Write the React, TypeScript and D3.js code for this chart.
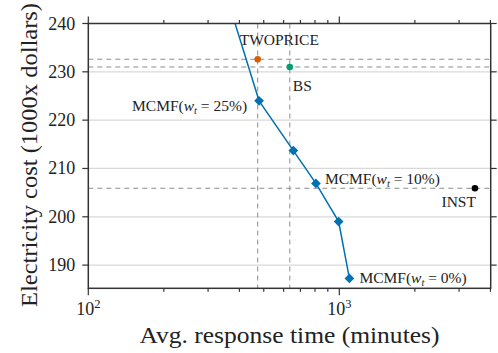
import { useEffect, useRef } from 'react';
import * as d3 from 'd3';

// MCMF trade-off curve (first point lies above the visible range)
const mcmfTime = [335, 479, 656, 807, 994, 1097];
const mcmfCost = [250, 224.0, 213.7, 206.9, 199.0, 187.25];
const mcmfLabels = ['', '25%', '', '10%', '', '0%'];

// baseline policies
const baseNames = ['TWOPRICE', 'BS', 'INST'];
const baseTime = [473, 635, 3470];
const baseCost = [232.6, 231.0, 205.9];
const baseColors = ['#D55E00', '#009E73', '#000000'];

const yTicks = [190, 200, 210, 220, 230, 240];
const xMajor = [100, 1000];
const xMinor = [200, 300, 400, 500, 600, 700, 800, 900, 2000, 3000, 4000];

const FONT = '"Liberation Serif", serif';

export default function App() {
  const svgRef = useRef<SVGSVGElement>(null);
  const width = 498;
  const height = 353;

  useEffect(() => {
    if (!svgRef.current) return;
    const svg = d3.select(svgRef.current);
    svg.selectAll('*').remove();

    const margin = { top: 23.5, right: 7.3, bottom: 64.7, left: 88.3 };
    const iw = width - margin.left - margin.right;
    const ih = height - margin.top - margin.bottom;

    const x = d3.scaleLog().domain([100, 4010]).range([0, iw]);
    const y = d3.scaleLinear().domain([185.2, 240]).range([ih, 0]);

    svg.append('defs').append('clipPath').attr('id', 'plot-clip')
      .append('rect').attr('width', iw).attr('height', ih);

    const g = svg.append('g').attr('transform', `translate(${margin.left},${margin.top})`);

    // horizontal grid
    g.selectAll('.grid')
      .data(yTicks)
      .enter().append('line')
      .attr('x1', 0).attr('x2', iw)
      .attr('y1', d => y(d)).attr('y2', d => y(d))
      .attr('stroke', '#d9d9d9')
      .attr('stroke-width', 1.2);

    const plot = g.append('g').attr('clip-path', 'url(#plot-clip)');

    // reference dashed lines
    const dash = '5,4';
    plot.selectAll('.hdash')
      .data(baseCost)
      .enter().append('line')
      .attr('x1', 0).attr('x2', iw)
      .attr('y1', d => y(d)).attr('y2', d => y(d))
      .attr('stroke', '#8c8c8c').attr('stroke-width', 1)
      .attr('stroke-dasharray', dash);
    plot.selectAll('.vdash')
      .data(baseTime.slice(0, 2))
      .enter().append('line')
      .attr('x1', d => x(d)).attr('x2', d => x(d))
      .attr('y1', 0).attr('y2', ih)
      .attr('stroke', '#8c8c8c').attr('stroke-width', 1)
      .attr('stroke-dasharray', dash);

    // MCMF curve
    const pts = mcmfTime.map((t, i) => [t, mcmfCost[i]] as [number, number]);
    const line = d3.line<[number, number]>().x(d => x(d[0])).y(d => y(d[1]));
    plot.append('path')
      .attr('d', line(pts))
      .attr('fill', 'none')
      .attr('stroke', '#0072B2')
      .attr('stroke-width', 1.5);
    plot.selectAll('.mk')
      .data(pts)
      .enter().append('path')
      .attr('d', d3.symbol(d3.symbolDiamond2, 60)())
      .attr('transform', d => `translate(${x(d[0])},${y(d[1])})`)
      .attr('fill', '#0072B2');

    // baseline points
    plot.selectAll('.bp')
      .data(baseTime)
      .enter().append('circle')
      .attr('cx', d => x(d))
      .attr('cy', (d, i) => y(baseCost[i]))
      .attr('r', 3.3)
      .attr('fill', (d, i) => baseColors[i]);

    // labels
    const labelSize = 15.5;
    const baseOffsets = [[-18, -14, 'start'], [3, 24, 'start'], [1, 19, 'end']];
    baseNames.forEach((name, i) => {
      g.append('text')
        .attr('x', x(baseTime[i]) + (baseOffsets[i][0] as number))
        .attr('y', y(baseCost[i]) + (baseOffsets[i][1] as number))
        .attr('text-anchor', baseOffsets[i][2] as string)
        .attr('font-family', FONT)
        .attr('font-size', labelSize)
        .attr('fill', '#222')
        .text(name);
    });

    const mcmfOffsets: Record<string, [number, number, string]> = {
      '25%': [-12, 10, 'end'],
      '10%': [9, 1, 'start'],
      '0%': [10, 4.5, 'start'],
    };
    mcmfLabels.forEach((lab, i) => {
      if (!lab) return;
      const [dx, dy, anchor] = mcmfOffsets[lab];
      const t = g.append('text')
        .attr('x', x(mcmfTime[i]) + dx)
        .attr('y', y(mcmfCost[i]) + dy)
        .attr('text-anchor', anchor)
        .attr('font-family', FONT)
        .attr('font-size', labelSize)
        .attr('fill', '#222');
      t.append('tspan').text('MCMF(');
      t.append('tspan').attr('font-style', 'italic').text('w');
      t.append('tspan').attr('font-style', 'italic').attr('font-size', 10.5).attr('dy', 3).text('t');
      t.append('tspan').attr('dy', -3).text(` = ${lab})`);
    });

    // spines
    g.append('rect')
      .attr('width', iw).attr('height', ih)
      .attr('fill', 'none')
      .attr('stroke', '#333')
      .attr('stroke-width', 1.5);

    // y ticks both sides
    const tickColor = '#333';
    yTicks.forEach(v => {
      g.append('line').attr('x1', -6).attr('x2', 0).attr('y1', y(v)).attr('y2', y(v))
        .attr('stroke', tickColor).attr('stroke-width', 1.2);
      g.append('line').attr('x1', iw).attr('x2', iw + 6).attr('y1', y(v)).attr('y2', y(v))
        .attr('stroke', tickColor).attr('stroke-width', 1.2);
      g.append('text')
        .attr('x', -13).attr('y', y(v) + 6)
        .attr('text-anchor', 'end')
        .attr('font-family', FONT).attr('font-size', 18).attr('fill', '#222')
        .text(v);
    });

    // x ticks top & bottom
    const xt = [...xMajor.map(v => [v, 7]), ...xMinor.map(v => [v, 3.5])];
    xt.forEach(([v, len]) => {
      g.append('line').attr('x1', x(v)).attr('x2', x(v)).attr('y1', ih).attr('y2', ih + len)
        .attr('stroke', tickColor).attr('stroke-width', 1.2);
      g.append('line').attr('x1', x(v)).attr('x2', x(v)).attr('y1', 0).attr('y2', -len)
        .attr('stroke', tickColor).attr('stroke-width', 1.2);
    });
    xMajor.forEach(v => {
      const t = g.append('text')
        .attr('x', x(v)).attr('y', ih + 27)
        .attr('text-anchor', 'middle')
        .attr('font-family', FONT).attr('font-size', 18).attr('fill', '#222');
      t.append('tspan').text('10');
      t.append('tspan').attr('font-size', 12.5).attr('dy', -7).text(Math.round(Math.log10(v)));
    });

    // axis titles
    g.append('text')
      .attr('x', iw / 2).attr('y', ih + 55)
      .attr('text-anchor', 'middle')
      .attr('textLength', 300)
      .attr('lengthAdjust', 'spacingAndGlyphs')
      .attr('font-family', FONT).attr('font-size', 23).attr('fill', '#222')
      .text('Avg. response time (minutes)');
    g.append('text')
      .attr('transform', 'rotate(-90)')
      .attr('x', -(155 - margin.top)).attr('y', 37 - margin.left)
      .attr('text-anchor', 'middle')
      .attr('textLength', 304)
      .attr('lengthAdjust', 'spacingAndGlyphs')
      .attr('font-family', FONT).attr('font-size', 23).attr('fill', '#222')
      .text('Electricity cost (1000x dollars)');
  }, []);

  return (
    <svg
      ref={svgRef}
      width={width}
      height={height}
      style={{ position: 'absolute', left: 0, top: 0, background: '#fff' }}
    />
  );
}
